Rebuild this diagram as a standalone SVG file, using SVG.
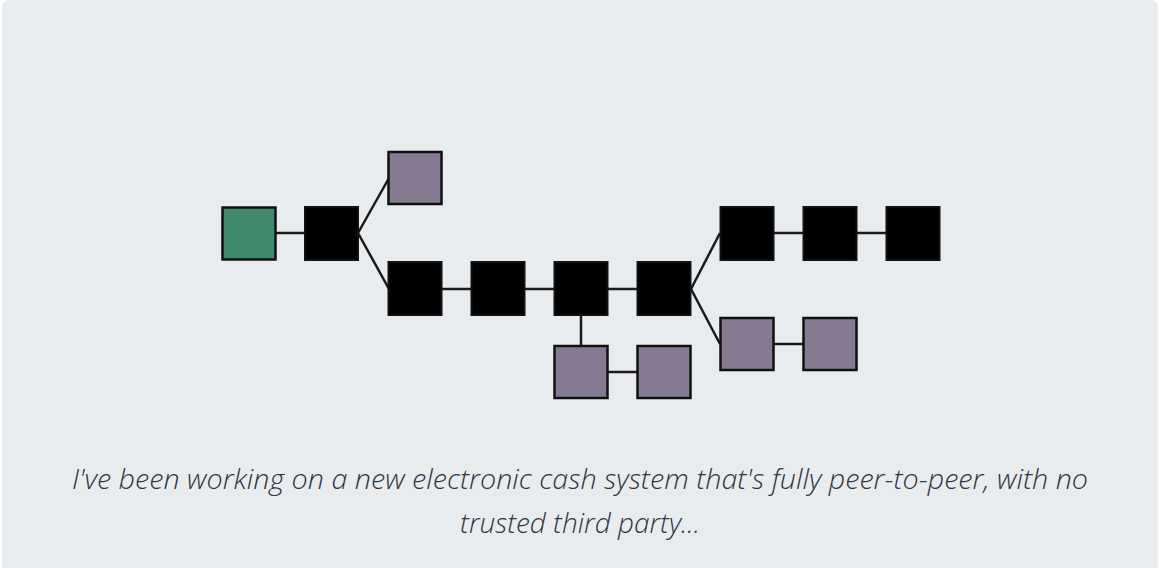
<svg xmlns="http://www.w3.org/2000/svg" width="1159" height="568" viewBox="0 0 1159 568">
<style>
.blk{fill:#000;stroke:#111;stroke-width:2}
.pur{fill:#857a91;stroke:#111;stroke-width:2.5}
.grn{fill:#418a6e;stroke:#111;stroke-width:2.5}
.ln{stroke:#1a1a1a;stroke-width:2.5;fill:none}
.cap{font-family:"Open Sans","Noto Sans",sans-serif;font-style:italic;font-weight:300;font-size:27px;fill:#2f3640;text-anchor:middle}
</style>
<rect x="0" y="0" width="1159" height="568" fill="#ffffff"/>
<rect x="2" y="0" width="1156" height="580" rx="7" fill="#e9ecef"/>
<g id="connectors">
<line class="ln" x1="276" y1="233" x2="305" y2="233"/>
<line class="ln" x1="358" y1="233" x2="389" y2="178"/>
<line class="ln" x1="358" y1="233" x2="389" y2="289"/>
<line class="ln" x1="442" y1="289" x2="472" y2="289"/>
<line class="ln" x1="525" y1="289" x2="555" y2="289"/>
<line class="ln" x1="608" y1="289" x2="638" y2="289"/>
<line class="ln" x1="581" y1="315" x2="581" y2="346"/>
<line class="ln" x1="608" y1="372" x2="638" y2="372"/>
<line class="ln" x1="691" y1="289" x2="720" y2="233"/>
<line class="ln" x1="691" y1="289" x2="720" y2="344"/>
<line class="ln" x1="774" y1="233" x2="804" y2="233"/>
<line class="ln" x1="857" y1="233" x2="887" y2="233"/>
<line class="ln" x1="774" y1="344" x2="804" y2="344"/>
</g>
<g id="n0"><rect class="grn" x="222.5" y="207.5" width="53" height="52"/></g>
<g id="n1"><rect class="blk" x="305" y="207" width="53" height="53"/></g>
<g id="n2"><rect class="pur" x="388.5" y="152" width="53" height="52"/></g>
<g id="n3"><rect class="blk" x="388.5" y="262" width="53" height="53"/></g>
<g id="n4"><rect class="blk" x="471.5" y="262" width="53" height="53"/></g>
<g id="n5"><rect class="blk" x="554.5" y="262" width="53" height="53"/></g>
<g id="n6"><rect class="blk" x="637.5" y="262" width="53" height="53"/></g>
<g id="n7"><rect class="pur" x="554.5" y="346" width="53" height="52"/></g>
<g id="n8"><rect class="pur" x="637.5" y="346" width="53" height="52"/></g>
<g id="n9"><rect class="blk" x="720.5" y="207" width="53" height="53"/></g>
<g id="n10"><rect class="blk" x="803.5" y="207" width="53" height="53"/></g>
<g id="n11"><rect class="blk" x="886.5" y="207" width="53" height="53"/></g>
<g id="n12"><rect class="pur" x="720.5" y="318" width="53" height="52"/></g>
<g id="n13"><rect class="pur" x="803.5" y="318" width="53" height="52"/></g>
<text class="cap" x="580" y="489" textLength="1016" lengthAdjust="spacingAndGlyphs">I've been working on a new electronic cash system that's fully peer-to-peer, with no</text>
<text class="cap" x="580" y="533" textLength="240" lengthAdjust="spacingAndGlyphs">trusted third party...</text>
</svg>
